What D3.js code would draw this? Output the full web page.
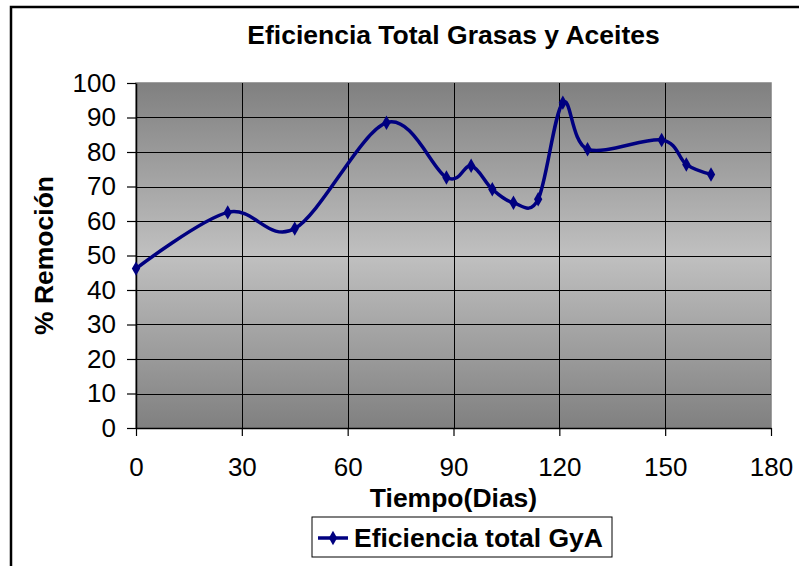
<!DOCTYPE html>
<html>
<head>
<meta charset="utf-8">
<script src="https://cdn.jsdelivr.net/npm/d3@7"></script>
<style>
body { margin:0; background:#fff; }
text { font-family: "Liberation Sans", Arial, sans-serif; fill:#000; }
</style>
</head>
<body>
<div id="chart"></div>
<script>
// Data
const days = [0, 26, 45, 71, 88, 95, 101, 107, 114, 121, 128, 149, 156, 163];
const removal = [46.2, 62.5, 57.8, 88.5, 72.6, 76.0, 69.2, 65.3, 66.3, 94.3, 80.8, 83.5, 76.4, 73.5];
const xTicks = [0, 30, 60, 90, 120, 150, 180];
const yTicks = [0, 10, 20, 30, 40, 50, 60, 70, 80, 90, 100];
const seriesName = "Eficiencia total GyA";

const W = 799, H = 566;
const margin = {top:83, right:28, bottom:138, left:136};
const width = W - margin.left - margin.right;
const height = H - margin.top - margin.bottom;

const data = days.map((d, i) => ({day:d, value:removal[i]}));

const svg = d3.select("#chart").append("svg")
  .attr("width", W).attr("height", H);

// outer chart frame (runs off the page at right/bottom)
svg.append("rect")
  .attr("x", 11).attr("y", 7)
  .attr("width", 820).attr("height", 600)
  .attr("fill", "none").attr("stroke", "#000").attr("stroke-width", 2.5);

const defs = svg.append("defs");
const grad = defs.append("linearGradient")
  .attr("id", "bg").attr("x1", 0).attr("y1", 0).attr("x2", 0).attr("y2", 1);
grad.append("stop").attr("offset", "0%").attr("stop-color", "#808080");
grad.append("stop").attr("offset", "50%").attr("stop-color", "#c0c0c0");
grad.append("stop").attr("offset", "100%").attr("stop-color", "#808080");

const g = svg.append("g")
  .attr("transform", `translate(${margin.left},${margin.top})`);

const x = d3.scaleLinear().domain([0, 180]).range([0, width]);
const y = d3.scaleLinear().domain([0, 100]).range([height, 0]);

// plot background
g.append("rect")
  .attr("width", width).attr("height", height)
  .attr("fill", "url(#bg)")
  .attr("stroke", "#808080").attr("stroke-width", 1.5);

// grid
g.append("g").selectAll("line")
  .data(yTicks.filter(v => v > 0 && v < 100))
  .enter().append("line")
  .attr("x1", 0).attr("x2", width)
  .attr("y1", d => Math.round(y(d)) + 0.5).attr("y2", d => Math.round(y(d)) + 0.5)
  .attr("stroke", "#000").attr("stroke-width", 1);

g.append("g").selectAll("line")
  .data(xTicks.filter(v => v > 0 && v < 180))
  .enter().append("line")
  .attr("y1", 0).attr("y2", height)
  .attr("x1", d => Math.round(x(d)) + 0.5).attr("x2", d => Math.round(x(d)) + 0.5)
  .attr("stroke", "#000").attr("stroke-width", 1);

// axes
const xAxis = g.append("g")
  .attr("transform", `translate(0,${height})`)
  .call(d3.axisBottom(x).tickValues(xTicks).tickSize(8).tickPadding(22).tickSizeOuter(0));
const yAxis = g.append("g")
  .call(d3.axisLeft(y).tickValues(yTicks).tickSize(9).tickPadding(11).tickSizeOuter(0));

[xAxis, yAxis].forEach(a => {
  a.select(".domain").attr("stroke", "#000").attr("stroke-width", 1.5);
  a.selectAll(".tick line").attr("stroke", "#000").attr("stroke-width", 1.2);
  a.selectAll(".tick text")
    .style("font-family", '"Liberation Sans", Arial, sans-serif')
    .style("font-size", "26px").attr("fill", "#000");
});

// smoothed line
const line = d3.line()
  .x(d => x(d.day)).y(d => y(d.value))
  .curve(d3.curveCardinal.tension(0));

g.append("path")
  .datum(data)
  .attr("d", line)
  .attr("fill", "none")
  .attr("stroke", "#000080")
  .attr("stroke-width", 3.5);

const diamond = d3.symbol().type(d3.symbolDiamond).size(60);
g.selectAll(".pt")
  .data(data).enter().append("path")
  .attr("class", "pt")
  .attr("transform", d => `translate(${x(d.day)},${y(d.value)})`)
  .attr("d", diamond)
  .attr("fill", "#000080");

// titles
svg.append("text")
  .attr("x", margin.left + width / 2).attr("y", 44)
  .attr("text-anchor", "middle")
  .style("font-size", "26.5px").style("font-weight", "bold")
  .text("Eficiencia Total Grasas y Aceites");

svg.append("text")
  .attr("x", margin.left + width / 2).attr("y", 507)
  .attr("text-anchor", "middle")
  .style("font-size", "26.5px").style("font-weight", "bold")
  .text("Tiempo(Dias)");

svg.append("text")
  .attr("transform", `translate(53,${margin.top + height / 2}) rotate(-90)`)
  .attr("text-anchor", "middle")
  .style("font-size", "26.5px").style("font-weight", "bold")
  .text("% Remoción");

// legend
const leg = svg.append("g").attr("transform", "translate(312,517)");
leg.append("rect")
  .attr("width", 300).attr("height", 40)
  .attr("fill", "#fff").attr("stroke", "#000").attr("stroke-width", 1);
leg.append("line")
  .attr("x1", 6).attr("x2", 36).attr("y1", 21).attr("y2", 21)
  .attr("stroke", "#000080").attr("stroke-width", 3.5);
leg.append("path")
  .attr("transform", "translate(21,21)")
  .attr("d", diamond)
  .attr("fill", "#000080");
leg.append("text")
  .attr("x", 42).attr("y", 30)
  .style("font-size", "26.5px").style("font-weight", "bold")
  .text(seriesName);
</script>
</body>
</html>
